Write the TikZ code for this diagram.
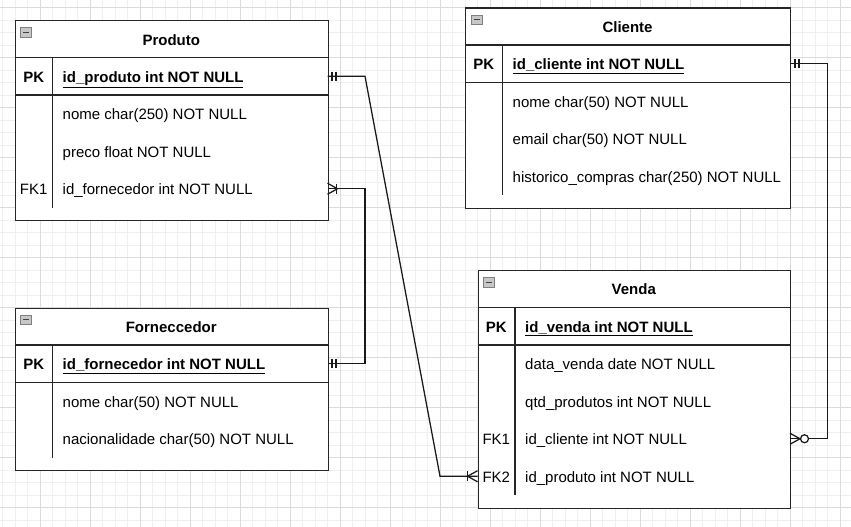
\documentclass[tikz,border=0pt]{standalone}
\usepackage{fontspec}
\setmainfont{Liberation Sans}
\newcommand\erfont{\fontsize{15}{18}\selectfont}
\begin{document}
\begin{tikzpicture}[x=1pt,y=-1pt,
  minorgrid/.style={draw=black!6,line width=0.8pt},
  majorgrid/.style={draw=black!14,line width=0.9pt},
  tbl/.style={draw=black!85,line width=1.25pt,fill=white,rectangle,inner sep=0pt,anchor=north west},
  sepline/.style={draw=black!85,line width=1.25pt},
  fld/.style={font=\erfont,anchor=mid west,inner sep=0pt,text=black,yshift=-3.3pt},
  keyl/.style={font=\erfont,anchor=mid,inner sep=0pt,text=black,yshift=-3.3pt},
  ttl/.style={font=\erfont\bfseries,anchor=mid,inner sep=0pt,text=black,yshift=-3pt},
  icon/.style={draw=black!50,fill=black!22,line width=0.9pt},
  iconminus/.style={draw=black!75,line width=1.4pt},
  conn/.style={draw=black!90,line width=1.25pt},
  endmark/.style={draw=black!90,line width=1.25pt}
]
\useasboundingbox (0,0) rectangle (851,527);
\fill[white] (0,0) rectangle (851,527);
% grid
\foreach \i in {0,...,68} \draw[minorgrid] ({2.5+12.5*\i},0) -- ++(0,527);
\foreach \j in {0,...,41} \draw[minorgrid] (0,{7.5+12.5*\j}) -- ++(851,0);
\foreach \i in {0,...,16} \draw[majorgrid] ({40+50*\i},0) -- ++(0,527);
\foreach \j in {0,...,10} \draw[majorgrid] (0,{7.5+50*\j}) -- ++(851,0);

% ---------- Produto ----------
\node[tbl,minimum width=312.5pt,minimum height=199.5pt] (produto) at (15,20) {};
\draw[sepline] (15,57.5) -- (327.5,57.5);
\draw[sepline] (15,95) -- (327.5,95);
\draw[sepline] (52.5,57.5) -- (52.5,207.5);
\draw[icon] (20.5,27.5) rectangle (31.5,37);
\draw[iconminus] (23,32.25) -- (29,32.25);
\node[ttl] (produtoT) at (171.25,39.5) {Produto};
\node[keyl,font=\erfont\bfseries] (produtoK1) at (33.75,76.25) {PK};
\node[fld,font=\erfont\bfseries] (produtoF1) at (62.5,76.25) {\underline{id\_produto int NOT NULL}};
\node[fld] (produtoF2) at (62.5,113.75) {nome char(250) NOT NULL};
\node[fld] (produtoF3) at (62.5,151.25) {preco float NOT NULL};
\node[keyl] (produtoK4) at (33.75,188.75) {FK1};
\node[fld] (produtoF4) at (62.5,188.75) {id\_fornecedor int NOT NULL};

% ---------- Forneccedor ----------
\node[tbl,minimum width=312.5pt,minimum height=162.5pt] (fornecedor) at (15,307.5) {};
\draw[sepline] (15,345) -- (327.5,345);
\draw[sepline] (15,382.5) -- (327.5,382.5);
\draw[sepline] (52.5,345) -- (52.5,457.5);
\draw[icon] (20.5,315) rectangle (31.5,324.5);
\draw[iconminus] (23,319.75) -- (29,319.75);
\node[ttl] (fornecedorT) at (171.25,327) {Forneccedor};
\node[keyl,font=\erfont\bfseries] (fornecedorK1) at (33.75,363.75) {PK};
\node[fld,font=\erfont\bfseries] (fornecedorF1) at (62.5,363.75) {\underline{id\_fornecedor int NOT NULL}};
\node[fld] (fornecedorF2) at (62.5,401.25) {nome char(50) NOT NULL};
\node[fld] (fornecedorF3) at (62.5,438.75) {nacionalidade char(50) NOT NULL};

% ---------- Cliente ----------
\node[tbl,minimum width=325pt,minimum height=200pt] (cliente) at (465,7.5) {};
\draw[sepline] (465,45) -- (790,45);
\draw[sepline] (465,82.5) -- (790,82.5);
\draw[sepline] (502.5,45) -- (502.5,195);
\draw[icon] (471,15) rectangle (482,24.5);
\draw[iconminus] (473.5,19.75) -- (479.5,19.75);
\node[ttl] (clienteT) at (627.5,27) {Cliente};
\node[keyl,font=\erfont\bfseries] (clienteK1) at (483.75,63.75) {PK};
\node[fld,font=\erfont\bfseries] (clienteF1) at (512.5,63.75) {\underline{id\_cliente int NOT NULL}};
\node[fld] (clienteF2) at (512.5,101.25) {nome char(50) NOT NULL};
\node[fld] (clienteF3) at (512.5,138.75) {email char(50) NOT NULL};
\node[fld] (clienteF4) at (512.5,176.25) {historico\_compras char(250) NOT NULL};

% ---------- Venda ----------
\node[tbl,minimum width=312.5pt,minimum height=237.5pt] (venda) at (477.5,270) {};
\draw[sepline] (477.5,307.5) -- (790,307.5);
\draw[sepline] (477.5,345) -- (790,345);
\draw[sepline] (515,307.5) -- (515,495);
\draw[icon] (483,277.5) rectangle (494,287);
\draw[iconminus] (485.5,282.25) -- (491.5,282.25);
\node[ttl] (vendaT) at (633.75,289) {Venda};
\node[keyl,font=\erfont\bfseries] (vendaK1) at (496.25,326.25) {PK};
\node[fld,font=\erfont\bfseries] (vendaF1) at (525,326.25) {\underline{id\_venda int NOT NULL}};
\node[fld] (vendaF2) at (525,363.75) {data\_venda date NOT NULL};
\node[fld] (vendaF3) at (525,401.25) {qtd\_produtos int NOT NULL};
\node[keyl] (vendaK4) at (496.25,438.75) {FK1};
\node[fld] (vendaF4) at (525,438.75) {id\_cliente int NOT NULL};
\node[keyl] (vendaK5) at (496.25,476.25) {FK2};
\node[fld] (vendaF5) at (525,476.25) {id\_produto int NOT NULL};

% ---------- connector end points ----------
\coordinate (pPK) at (327.5,76.25);
\coordinate (pFK) at (327.5,188.75);
\coordinate (fPK) at (327.5,363.75);
\coordinate (cPK) at (790,63.75);
\coordinate (vFK1) at (790,438.75);
\coordinate (vFK2) at (477.5,476.25);

% Produto.id_produto  ->  Venda.id_produto
\draw[conn] (pPK) -- ++(37.5,0) -- ([xshift=-37.5pt]vFK2) -- (vFK2);
\draw[endmark] ([shift={(4.5,-4.5)}]pPK) -- ++(0,9);
\draw[endmark] ([shift={(8.5,-4.5)}]pPK) -- ++(0,9);
\draw[endmark] ([shift={(0,-5.5)}]vFK2) -- ([shift={(-10,0)}]vFK2) -- ([shift={(0,5.5)}]vFK2);
\draw[endmark] ([shift={(-10,-5)}]vFK2) -- ++(0,10);

% Produto.id_fornecedor -> Forneccedor.id_fornecedor
\draw[conn] (pFK) -- ++(37.5,0) |- (fPK);
\draw[endmark] ([shift={(0,-5.5)}]pFK) -- ([shift={(10,0)}]pFK) -- ([shift={(0,5.5)}]pFK);
\draw[endmark] ([shift={(9,-5)}]pFK) -- ++(0,10);
\draw[endmark] ([shift={(4.5,-4.5)}]fPK) -- ++(0,9);
\draw[endmark] ([shift={(8.5,-4.5)}]fPK) -- ++(0,9);

% Cliente.id_cliente -> Venda.id_cliente
\draw[conn] (cPK) -- ++(37.5,0) |- (vFK1);
\draw[endmark] ([shift={(5,-4.5)}]cPK) -- ++(0,9);
\draw[endmark] ([shift={(9,-4.5)}]cPK) -- ++(0,9);
\draw[endmark] ([shift={(0,-5.5)}]vFK1) -- ([shift={(10,0)}]vFK1) -- ([shift={(0,5.5)}]vFK1);
\draw[endmark,fill=white] ([xshift=14.5pt]vFK1) circle[radius=4pt];
\end{tikzpicture}
\end{document}
